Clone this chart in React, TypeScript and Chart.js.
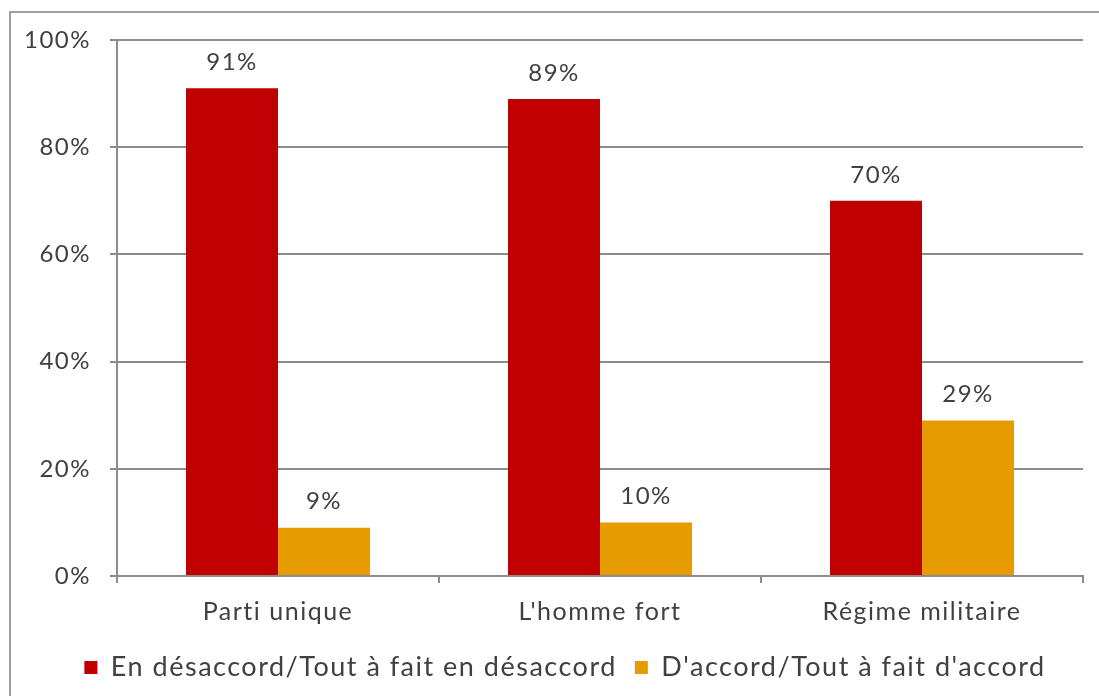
import React, { useEffect, useRef } from "react";
import { Chart, registerables } from "chart.js";

Chart.register(...registerables);

const categories = ["Parti unique", "L'homme fort", "Régime militaire"];
const seriesNames = ["En désaccord/Tout à fait en désaccord", "D'accord/Tout à fait d'accord"];
const disagreeValues = [91, 89, 70];
const agreeValues = [9, 10, 29];
const yTicks = [0, 20, 40, 60, 80, 100];

const FONT = "Lato, 'DejaVu Sans', sans-serif";
const TEXT = "#404040";
const GRID = "#8c8c8c";
const SPACING = "1.5px";
const WEIGHT = "400";

const spacingPlugin = {
  id: "spacing",
  beforeUpdate(chart: any) { chart.ctx.letterSpacing = SPACING; },
  beforeLayout(chart: any) { chart.ctx.letterSpacing = SPACING; },
  afterLayout(chart: any) {
    if (chart.legend) {
      chart.legend.left = chart.chartArea.left - 70;
      chart.legend.right = chart.chartArea.right;
    }
  },
  beforeDraw(chart: any) { chart.ctx.letterSpacing = SPACING; },
};

const dataLabels = {
  id: "dataLabels",
  afterDatasetsDraw(chart: any) {
    const ctx = chart.ctx;
    ctx.save();
    ctx.font = `${WEIGHT} 24px ${FONT}`;
    ctx.fillStyle = TEXT;
    ctx.textAlign = "center";
    ctx.textBaseline = "middle";
    chart.data.datasets.forEach((ds: any, i: number) => {
      const meta = chart.getDatasetMeta(i);
      meta.data.forEach((el: any, j: number) => {
        ctx.fillText(`${ds.data[j]}%`, el.x, el.y - 26);
      });
    });
    ctx.restore();
  },
};

export default function App() {
  const ref = useRef<HTMLCanvasElement>(null);
  useEffect(() => {
    const chart = new Chart(ref.current!, {
      type: "bar",
      data: {
        labels: categories,
        datasets: [
          { label: seriesNames[0], data: disagreeValues, backgroundColor: "#c00000", categoryPercentage: 0.5714, barPercentage: 1 },
          { label: seriesNames[1], data: agreeValues, backgroundColor: "#e69c00", categoryPercentage: 0.5714, barPercentage: 1 },
        ],
      },
      options: {
        responsive: false,
        animation: false,
        layout: { padding: { left: 10, top: 40, right: 16, bottom: 5 } },
        plugins: {
          tooltip: { enabled: false },
          legend: {
            position: "bottom",
            labels: {
              boxWidth: 13,
              boxHeight: 13,
              padding: 18,
              color: TEXT,
              font: { family: FONT, size: 27, weight: WEIGHT },
            },
          },
        },
        scales: {
          x: {
            grid: { display: true, drawOnChartArea: false, drawTicks: true, tickLength: 7, offset: true, color: GRID, lineWidth: 2 },
            border: { display: true, color: GRID, width: 2 },
            ticks: { color: TEXT, font: { family: FONT, size: 25, weight: WEIGHT }, padding: 14 },
            afterFit: (s: any) => { s.height = 60; },
          },
          y: {
            min: 0,
            max: 100,
            afterBuildTicks: (s: any) => { s.ticks = yTicks.map((v) => ({ value: v })); },
            grid: { color: GRID, lineWidth: 2, tickLength: 7 },
            border: { display: true, color: GRID, width: 2 },
            ticks: { color: TEXT, font: { family: FONT, size: 24, weight: WEIGHT }, padding: 19, callback: (v: any) => `${v}%` },
            afterFit: (s: any) => { s.width = 107; },
          },
        },
      },
      plugins: [spacingPlugin, dataLabels],
    });
    return () => chart.destroy();
  }, []);
  return (
    <div style={{ position: "fixed", left: 0, top: 0, width: 1099, height: 696, overflow: "hidden", background: "#fff" }}>
      <div style={{ position: "absolute", left: 9, top: 11, right: -20, bottom: -20, border: "2px solid #a0a0a0" }} />
      <canvas ref={ref} width={1099} height={696} style={{ position: "absolute", left: 0, top: 0 }} />
    </div>
  );
}
